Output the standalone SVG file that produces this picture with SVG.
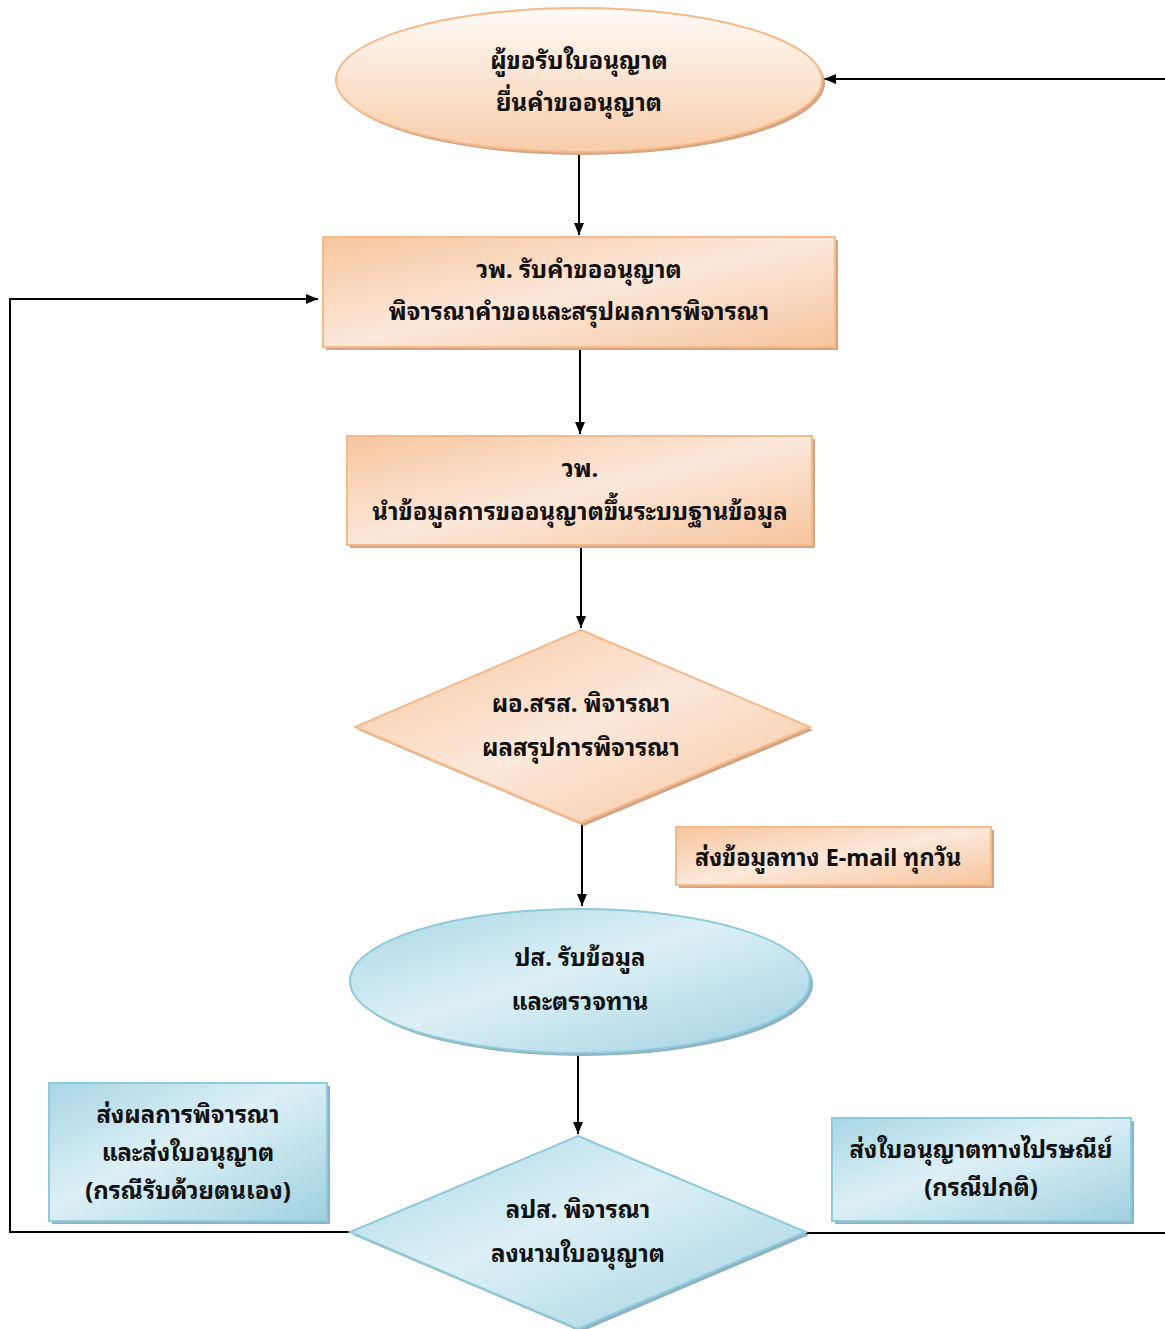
<svg xmlns="http://www.w3.org/2000/svg" width="1165" height="1329" viewBox="0 0 1165 1329">
<style>
.t{font-family:"Noto Sans Thai Looped","Noto Sans Thai","Noto Sans Thai UI","Tahoma","Noto Sans","DejaVu Sans",sans-serif;font-weight:bold;font-size:24px;fill:#111;text-anchor:middle}
.tl{text-anchor:start;font-size:23.5px}
.o{stroke:#f5b98a;stroke-width:2}
.b{stroke:#8ec9dc;stroke-width:2}
.so{fill:#d4a585}
.sb{fill:#8fb3c1}
.c{fill:none;stroke:#000;stroke-width:2}
</style>
<defs>
<marker id="ah" viewBox="0 0 12 10" refX="12" refY="5" markerWidth="12" markerHeight="10" markerUnits="userSpaceOnUse" orient="auto">
<path d="M0,0 L12,5 L0,10 z" fill="#000"/>
</marker>
<linearGradient id="go" x1="0" y1="0" x2="1" y2="1">
<stop offset="0" stop-color="#f7c59c"/>
<stop offset="0.5" stop-color="#fce8da"/>
<stop offset="1" stop-color="#f6c49c"/>
</linearGradient>
<linearGradient id="gov" x1="0" y1="0" x2="0" y2="1">
<stop offset="0" stop-color="#fffaf6"/>
<stop offset="1" stop-color="#f7cdaa"/>
</linearGradient>
<linearGradient id="gb" x1="0" y1="0" x2="1" y2="1">
<stop offset="0" stop-color="#a8d6e4"/>
<stop offset="0.45" stop-color="#dcf0f6"/>
<stop offset="1" stop-color="#9fd1e0"/>
</linearGradient>
</defs>
<g id="connectors">
<path class="c" d="M579,153 V235" marker-end="url(#ah)"/>
<path class="c" d="M580,348 V434" marker-end="url(#ah)"/>
<path class="c" d="M581,546 V628" marker-end="url(#ah)"/>
<path class="c" d="M582,823 V906" marker-end="url(#ah)"/>
<path class="c" d="M578,1053 V1134" marker-end="url(#ah)"/>
<path class="c" d="M350,1232 H10 V299 H318" marker-end="url(#ah)"/>
<path class="c" d="M1165,79 H824" marker-end="url(#ah)"/>
<path class="c" d="M806,1233 H1165"/>
</g>
<g id="n1">
<ellipse cx="582" cy="83" rx="243" ry="72" class="so"/>
<ellipse cx="579" cy="80" rx="243" ry="72" fill="url(#gov)" class="o"/>
<text class="t" x="579" y="69">ผู้ขอรับใบอนุญาต</text>
<text class="t" x="579" y="111">ยื่นคำขออนุญาต</text>
</g>
<g id="n2">
<rect x="326" y="240" width="512" height="110" class="so"/>
<rect x="323" y="237" width="512" height="110" fill="url(#go)" class="o"/>
<text class="t" x="579" y="278">วพ. รับคำขออนุญาต</text>
<text class="t" x="579" y="320">พิจารณาคำขอและสรุปผลการพิจารณา</text>
</g>
<g id="n3">
<rect x="350" y="439" width="465" height="109" class="so"/>
<rect x="347" y="436" width="465" height="109" fill="url(#go)" class="o"/>
<text class="t" x="580" y="477">วพ.</text>
<text class="t" x="580" y="520">นำข้อมูลการขออนุญาตขึ้นระบบฐานข้อมูล</text>
</g>
<g id="n4">
<path d="M584,633 L813,730 L584,826 L358,730 z" class="so"/>
<path d="M581,630 L810,727 L581,823 L355,727 z" fill="url(#go)" class="o"/>
<text class="t" x="581" y="712">ผอ.สรส. พิจารณา</text>
<text class="t" x="581" y="756">ผลสรุปการพิจารณา</text>
</g>
<g id="n5">
<rect x="679" y="830" width="315" height="58" class="so"/>
<rect x="676" y="827" width="315" height="58" fill="url(#go)" class="o"/>
<text class="t tl" x="695" y="866">ส่งข้อมูลทาง E-mail ทุกวัน</text>
</g>
<g id="n6">
<ellipse cx="583" cy="984" rx="230" ry="72" class="sb"/>
<ellipse cx="580" cy="981" rx="230" ry="72" fill="url(#gb)" class="b"/>
<text class="t" x="580" y="966">ปส. รับข้อมูล</text>
<text class="t" x="580" y="1010">และตรวจทาน</text>
</g>
<g id="n7">
<path d="M581,1139 L809,1235 L581,1332 L353,1235 z" class="sb"/>
<path d="M578,1136 L806,1232 L578,1329 L350,1232 z" fill="url(#gb)" class="b"/>
<text class="t" x="578" y="1218">ลปส. พิจารณา</text>
<text class="t" x="578" y="1262">ลงนามใบอนุญาต</text>
</g>
<g id="n8">
<rect x="52" y="1086" width="278" height="138" class="sb"/>
<rect x="49" y="1083" width="278" height="138" fill="url(#gb)" class="b"/>
<text class="t" x="188" y="1123">ส่งผลการพิจารณา</text>
<text class="t" x="188" y="1161">และส่งใบอนุญาต</text>
<text class="t" x="188" y="1199">(กรณีรับด้วยตนเอง)</text>
</g>
<g id="n9">
<rect x="835" y="1121" width="299" height="103" class="sb"/>
<rect x="832" y="1118" width="299" height="103" fill="url(#gb)" class="b"/>
<text class="t" x="981" y="1158">ส่งใบอนุญาตทางไปรษณีย์</text>
<text class="t" x="981" y="1196">(กรณีปกติ)</text>
</g>
</svg>
